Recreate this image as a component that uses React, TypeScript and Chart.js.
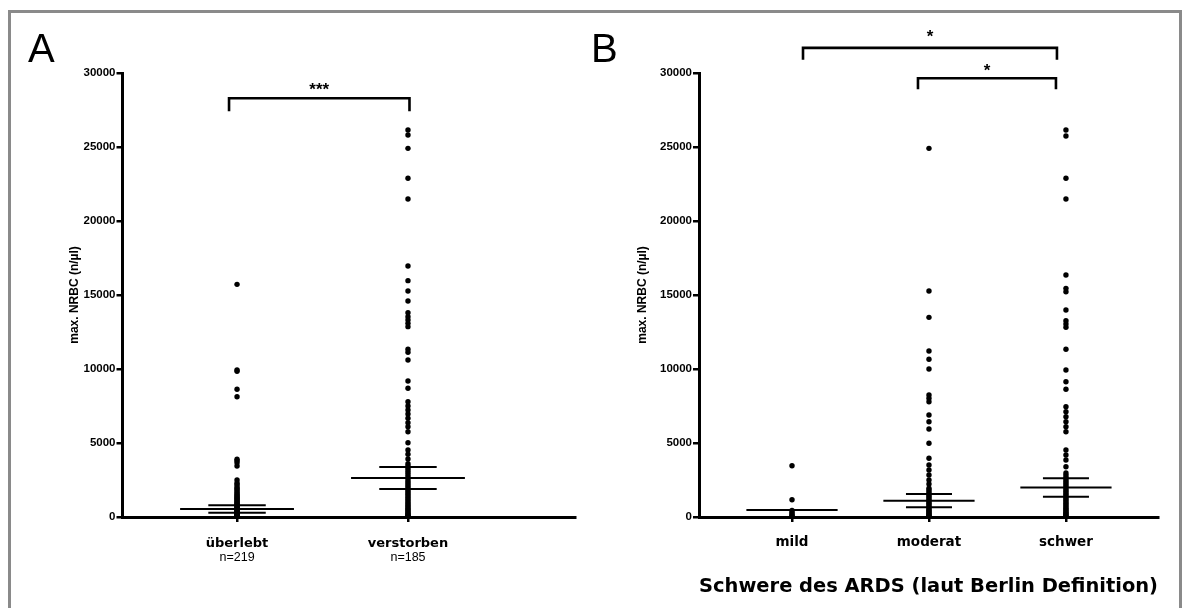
import React, { useEffect, useRef } from "react";
import { Chart, registerables } from "chart.js";

Chart.register(...registerables);

// ---------------- data ----------------
const yTickValues = [0, 5000, 10000, 15000, 20000, 25000, 30000];
const yAxisTitle = "max. NRBC (n/µl)";

// Panel A
const groupsA = ["überlebt", "verstorben"];
const countsA = ["n=219", "n=185"];
const survivedValues = [
  15720, 9930, 9850, 8630, 8130, 3900, 3800, 3670, 3450, 2500, 2300, 2200, 2050, 1950,
  1850, 1750, 1650, 1550, 1480, 1400, 1320, 1250, 1180, 1100, 1030, 970, 900, 840, 780,
  720, 660, 600, 540, 490, 440, 390, 340, 300, 260, 220, 180, 140, 110, 80, 50, 30, 10, 0,
];
const deceasedValues = [
  26150, 25810, 24910, 22885, 21490, 16960, 15970, 15270, 14595, 13805, 13535, 13310,
  13085, 12860, 11330, 11130, 10610, 9190, 8695, 7790, 7500, 7230, 6960, 6670, 6370, 6100,
  5765, 5020, 4530, 4235, 3920, 3600, 3450, 3300, 3150, 3000, 2850, 2700, 2560, 2420, 2280,
  2150, 2020, 1900, 1780, 1660, 1540, 1420, 1310, 1200, 1090, 980, 880, 780, 680, 590, 500,
  420, 340, 260, 190, 120, 60, 20, 0,
];
const meansA = [540, 2635];
const semA = [250, 743];
// [from group, to group, label, bracket level]
const comparisonsA: [number, number, string, number][] = [[0, 1, "***", 28290]];

// Panel B
const groupsB = ["mild", "moderat", "schwer"];
const mildValues = [3466, 1170, 450, 320, 210, 130, 60, 0];
const moderateValues = [
  24910, 15270, 13490, 11215, 10655, 10000, 8245, 8020, 7790, 6890, 6440, 5945, 4980, 3965,
  3510, 3175, 2840, 2500, 2230, 1940, 1820, 1700, 1580, 1460, 1350, 1240, 1130, 1020, 920,
  820, 720, 630, 540, 450, 370, 290, 220, 150, 90, 40, 0,
];
const severeValues = [
  26150, 25745, 22885, 21490, 16350, 15450, 15220, 13990, 13265, 13040, 12820, 11330, 9930,
  9140, 8630, 7455, 7115, 6780, 6440, 6100, 5765, 4530, 4190, 3850, 3400, 2970, 2830, 2690,
  2550, 2410, 2280, 2150, 2020, 1900, 1780, 1660, 1540, 1420, 1300, 1190, 1080, 970, 870,
  770, 670, 580, 490, 400, 320, 240, 170, 100, 40, 0,
];
const meansB = [473, 1104, 1990];
const semB: (number | null)[] = [null, 450, 620];
const comparisonsB: [number, number, string, number][] = [
  [0, 2, "*", 31700],
  [1, 2, "*", 29650],
];
const xAxisTitleB = "Schwere des ARDS (laut Berlin Definition)";

// ---------------- styling ----------------
const MEAN_HALF = 0.333;
const SEM_HALF = 0.168;
const SANS = '"Liberation Sans", Arial, sans-serif';
const VERDANA = '"DejaVu Sans", Verdana, sans-serif';

type BracketStyle = { dl: number; dr: number; drop: number; gap: number };

type PanelSpec = {
  letter: string;
  letterX: number;
  canvasLeft: number;
  width: number;
  padLeft: number;
  padRight: number;
  yWidth: number;
  xMin: number;
  xMax: number;
  groups: string[];
  counts?: string[];
  groupFont: number;
  groupBaseline: number;
  values: number[][];
  means: (number | null)[];
  sems: (number | null)[];
  comparisons: [number, number, string, number][];
  bracketStyles: BracketStyle[];
  xTitle?: string;
};

const HEIGHT = 608;
const TOP = 73;
const XAXIS_H = 91;

function segs(means: (number | null)[], offs: (number | null)[], sign: number, half: number) {
  const out: { x: number; y: number | null }[] = [];
  means.forEach((m, i) => {
    const o = offs[i];
    if (m == null || o == null) return;
    const v = m + sign * o;
    out.push({ x: i - half, y: v }, { x: i + half, y: v }, { x: i, y: null });
  });
  return out;
}

function makePlugin(spec: PanelSpec) {
  return {
    id: "panelText" + spec.letter,
    afterDraw(chart: any) {
      const { ctx } = chart;
      const xs = chart.scales.x;
      const ys = chart.scales.y;
      ctx.save();
      ctx.fillStyle = "#000";
      ctx.strokeStyle = "#000";
      ctx.textBaseline = "alphabetic";
      ctx.font = `40px ${SANS}`;
      ctx.textAlign = "left";
      ctx.fillText(spec.letter, spec.letterX, 62);

      spec.groups.forEach((g, i) => {
        const px = xs.getPixelForValue(i);
        ctx.textAlign = "center";
        ctx.font = `bold ${spec.groupFont}px ${VERDANA}`;
        ctx.fillText(g, px, spec.groupBaseline);
        if (spec.counts) {
          ctx.font = `12.5px ${SANS}`;
          ctx.fillText(spec.counts[i], px, 561);
        }
      });

      spec.comparisons.forEach(([a, b, label, level], k) => {
        const st = spec.bracketStyles[k];
        const x1 = xs.getPixelForValue(a) + st.dl;
        const x2 = xs.getPixelForValue(b) + st.dr;
        const yy = ys.getPixelForValue(level);
        ctx.lineWidth = 2.6;
        ctx.lineJoin = "miter";
        ctx.lineCap = "butt";
        ctx.beginPath();
        ctx.moveTo(x1, yy + st.drop);
        ctx.lineTo(x1, yy);
        ctx.lineTo(x2, yy);
        ctx.lineTo(x2, yy + st.drop);
        ctx.stroke();
        ctx.font = `bold 17px ${SANS}`;
        ctx.textAlign = "center";
        ctx.fillText(label, (x1 + x2) / 2, yy - st.gap + 0.57 * 17);
      });
      ctx.restore();
    },
  };
}

function makeConfig(spec: PanelSpec): any {
  const points = spec.values.flatMap((vals, i) => vals.map((v) => ({ x: i, y: v })));
  const lineDs = (data: any[], w: number) => ({
    type: "scatter",
    data,
    showLine: true,
    spanGaps: false,
    borderColor: "#000",
    borderWidth: w,
    pointRadius: 0,
    backgroundColor: "#000",
  });
  return {
    type: "scatter",
    data: {
      datasets: [
        lineDs(segs(spec.means, spec.means.map(() => 0), 1, MEAN_HALF), 2),
        lineDs(segs(spec.means, spec.sems, 1, SEM_HALF), 2),
        lineDs(segs(spec.means, spec.sems, -1, SEM_HALF), 2),
        {
          type: "scatter",
          data: points,
          pointRadius: 2.7,
          pointBorderWidth: 0,
          backgroundColor: "#000",
          borderColor: "#000",
        },
      ],
    },
    options: {
      responsive: false,
      animation: false,
      devicePixelRatio: 1,
      events: [],
      layout: { padding: { left: spec.padLeft, right: spec.padRight, top: TOP, bottom: 0 } },
      plugins: { legend: { display: false }, tooltip: { enabled: false } },
      scales: {
        x: {
          type: "linear",
          min: spec.xMin,
          max: spec.xMax,
          afterBuildTicks: (scale: any) => {
            scale.ticks = spec.groups.map((_, i) => ({ value: i }));
          },
          afterFit: (scale: any) => {
            scale.height = XAXIS_H;
          },
          ticks: { display: false },
          grid: {
            display: true,
            drawOnChartArea: false,
            drawTicks: true,
            tickLength: 5,
            color: "#000",
            lineWidth: 2.5,
          },
          border: { display: true, color: "#000", width: 3 },
          title: spec.xTitle
            ? {
                display: true,
                text: spec.xTitle,
                color: "#000",
                font: { family: VERDANA, weight: "bold", size: 20 },
                padding: { top: 0, bottom: 9 },
              }
            : { display: false },
        },
        y: {
          type: "linear",
          min: 0,
          max: 30000,
          afterBuildTicks: (scale: any) => {
            scale.ticks = yTickValues.map((v) => ({ value: v }));
          },
          afterFit: (scale: any) => {
            scale.width = spec.yWidth;
          },
          ticks: {
            color: "#000",
            padding: 1,
            font: { family: SANS, weight: "bold", size: 11.5 },
            callback: (v: any) => String(v),
          },
          grid: {
            display: true,
            drawOnChartArea: false,
            drawTicks: true,
            tickLength: 6,
            color: "#000",
            lineWidth: 2.5,
          },
          border: { display: true, color: "#000", width: 3 },
          title: {
            display: true,
            text: yAxisTitle,
            color: "#000",
            font: { family: SANS, weight: "bold", size: 12 },
            padding: { top: 0, bottom: 0 },
          },
        },
      },
    },
    plugins: [makePlugin(spec)],
  };
}

const panelA: PanelSpec = {
  letter: "A",
  letterX: 28,
  canvasLeft: 0,
  width: 585,
  padLeft: 67.8,
  padRight: 10,
  yWidth: 54.7,
  xMin: -0.67,
  xMax: 1.977,
  groups: groupsA,
  counts: countsA,
  groupFont: 13,
  groupBaseline: 547,
  values: [survivedValues, deceasedValues],
  means: meansA,
  sems: semA,
  comparisons: comparisonsA,
  bracketStyles: [{ dl: -8, dr: 1.5, drop: 13, gap: 13 }],
};

const panelB: PanelSpec = {
  letter: "B",
  letterX: 6,
  canvasLeft: 585,
  width: 605,
  padLeft: 50.8,
  padRight: 32,
  yWidth: 63.2,
  xMin: -0.679,
  xMax: 2.672,
  groups: groupsB,
  groupFont: 13.5,
  groupBaseline: 546,
  values: [mildValues, moderateValues, severeValues],
  means: meansB,
  sems: semB,
  comparisons: comparisonsB,
  bracketStyles: [
    { dl: 11, dr: -9, drop: 12, gap: 16 },
    { dl: -11, dr: -10, drop: 11, gap: 12 },
  ],
  xTitle: xAxisTitleB,
};

function Panel({ spec }: { spec: PanelSpec }) {
  const ref = useRef<HTMLCanvasElement | null>(null);
  useEffect(() => {
    if (!ref.current) return;
    const chart = new Chart(ref.current, makeConfig(spec));
    return () => chart.destroy();
  }, [spec]);
  return (
    <canvas
      ref={ref}
      width={spec.width}
      height={HEIGHT}
      style={{
        position: "absolute",
        left: spec.canvasLeft,
        top: 0,
        width: spec.width,
        height: HEIGHT,
        display: "block",
      }}
    />
  );
}

export default function App() {
  return (
    <div
      style={{
        position: "absolute",
        left: 0,
        top: 0,
        width: 1190,
        height: 608,
        background: "#fff",
        overflow: "hidden",
      }}
    >
      <div
        style={{
          position: "absolute",
          left: 8,
          top: 10,
          width: 1174,
          height: 610,
          boxSizing: "border-box",
          borderTop: "3px solid #8a8a8a",
          borderLeft: "3px solid #8a8a8a",
          borderRight: "3px solid #8a8a8a",
        }}
      />
      <Panel spec={panelA} />
      <Panel spec={panelB} />
    </div>
  );
}
